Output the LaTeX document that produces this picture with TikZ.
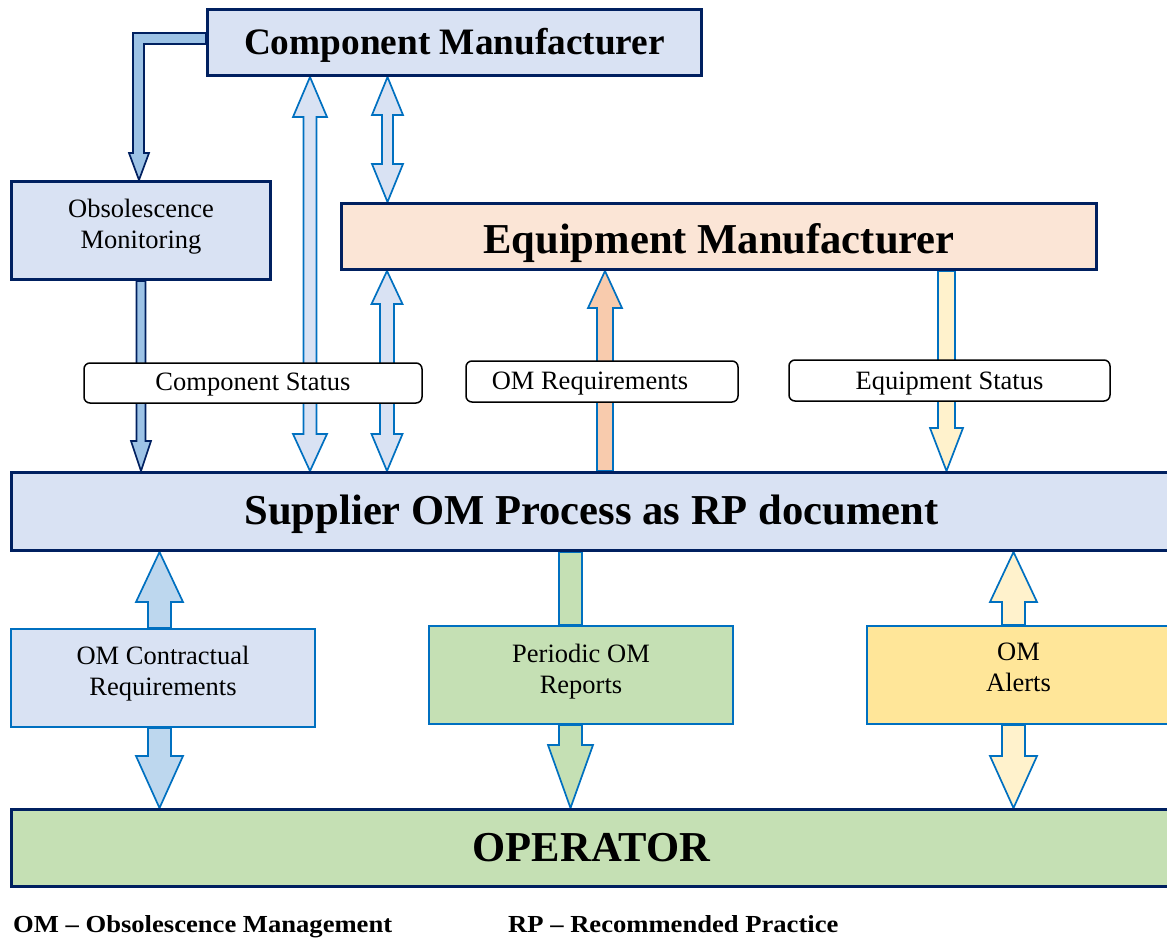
\documentclass[tikz,border=0pt]{standalone}
\usepackage{fontspec}
\setmainfont{Liberation Serif}
\usetikzlibrary{calc}
\pgfdeclarelayer{bg}
\pgfsetlayers{bg,main}
\definecolor{navy}{HTML}{002060}
\definecolor{lblue}{HTML}{D9E2F3}
\definecolor{peach}{HTML}{FBE5D6}
\definecolor{lgreen}{HTML}{C5E0B4}
\definecolor{lyellow}{HTML}{FFE699}
\definecolor{pyellow}{HTML}{FFF2CC}
\definecolor{bblue}{HTML}{0070C0}
\definecolor{mblue}{HTML}{9DC3E6}
\definecolor{sblue}{HTML}{BDD7EE}
\definecolor{orangish}{HTML}{F8CBAD}
\newcommand\txtlift[2]{\raisebox{#1}[\height][\depth]{#2}}
\newcommand\twolines[2]{\begin{tabular}{@{}c@{}}#1\\#2\end{tabular}}
\tikzset{
  bigbox/.style={draw=navy, line width=3pt, inner sep=0pt, font=\bfseries\fontsize{42.6}{50}\selectfont},
  subbox/.style={draw=bblue, line width=2pt, inner sep=0pt, minimum width=304pt, minimum height=98pt, font=\fontsize{26.5}{31}\selectfont},
  tagbox/.style={draw=black, fill=white, line width=1.5pt, rounded corners=6pt, inner sep=0pt, font=\fontsize{26.5}{31}\selectfont},
  arrblue/.style={draw=bblue, line width=1.7pt, line join=miter},
  arrnavy/.style={draw=navy, line width=1.7pt, line join=miter},
  legend/.style={anchor=base west, inner sep=0pt, font=\bfseries\fontsize{26.6}{30}\selectfont}
}
% block arrow: #1 style, #2 x, #3 top point, #4 bottom point, #5 top head length, #6 bottom head length, #7 shaft half width, #8 head half width
\newcommand\blkarrow[8]{%
  \ifdim#5pt>0pt
    \def\blktop{(\x0-#7pt,\y1-#5pt) -- (\x0-#8pt,\y1-#5pt) -- (\x0,\y1) -- (\x0+#8pt,\y1-#5pt) -- (\x0+#7pt,\y1-#5pt)}%
  \else
    \def\blktop{(\x0-#7pt,\y1) -- (\x0+#7pt,\y1)}%
  \fi
  \ifdim#6pt>0pt
    \def\blkbot{(\x0+#7pt,\y2+#6pt) -- (\x0+#8pt,\y2+#6pt) -- (\x0,\y2) -- (\x0-#8pt,\y2+#6pt) -- (\x0-#7pt,\y2+#6pt)}%
  \else
    \def\blkbot{(\x0+#7pt,\y2) -- (\x0-#7pt,\y2)}%
  \fi
  \path[#1] let \p0=(#2,0), \p1=(#3), \p2=(#4) in \blktop -- \blkbot -- cycle;%
}
\begin{document}
\begin{tikzpicture}[x=1pt, y=-1pt]
\clip (0,0) rectangle (1167,941);
% main boxes
\node[bigbox, fill=lblue, minimum width=494pt, minimum height=66pt, font=\bfseries\fontsize{37.3}{44}\selectfont] (CM) at (454.5,42.5) {\txtlift{-3pt}{Component Manufacturer}};
\node[bigbox, fill=lblue, minimum width=259pt, minimum height=98pt, font=\fontsize{26.5}{31}\selectfont] (OBS) at (141,230.5) {\txtlift{4pt}{\twolines{Obsolescence}{Monitoring}}};
\node[bigbox, fill=peach, minimum width=755pt, minimum height=66pt] (EM) at (719,236.5) {\txtlift{-7pt}{Equipment Manufacturer}};
\node[bigbox, fill=lblue, minimum width=1160pt, minimum height=78pt] (SUP) at (591.5,511.5) {\txtlift{-3pt}{Supplier OM Process as RP document}};
\node[bigbox, fill=lgreen, minimum width=1160pt, minimum height=77pt] (OP) at (591.5,848) {OPERATOR};
% sub boxes
\node[subbox, fill=lblue] (OMC) at (163,678) {\txtlift{4.5pt}{\twolines{OM Contractual}{Requirements}}};
\node[subbox, fill=lgreen] (POR) at (581,675) {\txtlift{3pt}{\twolines{Periodic OM}{Reports}}};
\node[subbox, fill=lyellow] (ALR) at (1018.5,675) {\txtlift{5pt}{\twolines{OM}{Alerts}}};
% tag boxes
\node[tagbox, minimum width=338pt, minimum height=40pt] (CS) at (253,383) {\txtlift{-2pt}{Component Status}};
\node[tagbox, minimum width=272pt, minimum height=41pt] (OMR) at (602,381.5) {\txtlift{-2pt}{OM Requirements}\hspace*{24pt}};
\node[tagbox, minimum width=321pt, minimum height=41pt] (ES) at (949.5,380.5) {\txtlift{-3pt}{Equipment Status}};
% legend
\node[legend] (L1) at (13,932) {\scalebox{1}[0.92]{OM – Obsolescence Management}};
\node[legend] (L2) at (508,932) {\scalebox{1}[0.92]{RP – Recommended Practice}};
% arrows
\begin{pgfonlayer}{bg}
\path[arrnavy, fill=mblue] let \p1=(CM.west), \p2=(OBS.north) in
  (\x1,-33pt) -- (133pt,-33pt) -- (133pt,\y2+27pt) -- (129pt,\y2+27pt) -- (139pt,\y2)
  -- (149pt,\y2+27pt) -- (144pt,\y2+27pt) -- (144pt,-44pt) -- (\x1,-44pt) -- cycle;
\blkarrow{arrnavy, fill=mblue}{141}{OBS.south}{SUP.north}{0}{30}{4.5}{10}
\blkarrow{arrblue, fill=lblue}{310}{CM.south}{SUP.north}{40}{37}{6.5}{17}
\blkarrow{arrblue, fill=lblue}{387.5}{CM.south}{EM.north}{38}{38}{5.5}{15.5}
\blkarrow{arrblue, fill=lblue}{387}{EM.south}{SUP.north}{33}{37}{7}{15.5}
\blkarrow{arrblue, fill=orangish}{605}{EM.south}{SUP.north}{37}{0}{8}{17}
\blkarrow{arrblue, fill=pyellow}{946.5}{EM.south}{SUP.north}{0}{43}{8.5}{16.5}
\blkarrow{arrblue, fill=sblue}{159.5}{SUP.south}{OMC.north}{50}{0}{11.5}{23.5}
\blkarrow{arrblue, fill=sblue}{159.5}{OMC.south}{OP.north}{0}{52}{11.5}{23.5}
\blkarrow{arrblue, fill=lgreen}{570.5}{SUP.south}{POR.north}{0}{0}{11.5}{22.5}
\blkarrow{arrblue, fill=lgreen}{570.5}{POR.south}{OP.north}{0}{63}{11.5}{22.5}
\blkarrow{arrblue, fill=pyellow}{1013.5}{SUP.south}{ALR.north}{50}{0}{11.5}{23.5}
\blkarrow{arrblue, fill=pyellow}{1013.5}{ALR.south}{OP.north}{0}{52}{11.5}{23.5}
\end{pgfonlayer}
\end{tikzpicture}
\end{document}
